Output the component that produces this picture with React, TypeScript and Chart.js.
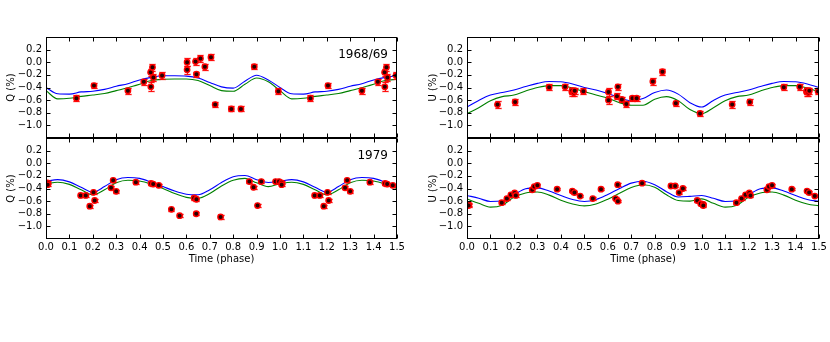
import React, { useEffect, useRef } from 'react';
import { Chart, registerables } from 'chart.js';

Chart.register(...registerables);

// ---------- tick labels ----------
const X_TICKS = [0, 0.1, 0.2, 0.3, 0.4, 0.5, 0.6, 0.7, 0.8, 0.9, 1.0, 1.1, 1.2, 1.3, 1.4, 1.5];
const Y_TICKS = [-1.0, -0.8, -0.6, -0.4, -0.2, 0.0, 0.2];

// ---------- model curves (phase grid) ----------
const MODEL_PHASE = [0, 0.05, 0.1, 0.15, 0.2, 0.25, 0.3, 0.35, 0.4, 0.45, 0.5, 0.55, 0.6, 0.65, 0.7, 0.75, 0.8, 0.85, 0.9, 0.95, 1.0,
  1.05, 1.1, 1.15, 1.2, 1.25, 1.3, 1.35, 1.4, 1.45, 1.5];

const Q68_BLUE = [-0.40, -0.50, -0.505, -0.47, -0.46, -0.43, -0.38, -0.34, -0.28, -0.24, -0.215, -0.215, -0.22, -0.25, -0.32, -0.39, -0.41, -0.30, -0.205, -0.28, -0.40,
  -0.50, -0.505, -0.47, -0.46, -0.43, -0.38, -0.34, -0.28, -0.24, -0.215];
const Q68_GREEN = [-0.45, -0.58, -0.57, -0.54, -0.52, -0.495, -0.45, -0.405, -0.35, -0.29, -0.27, -0.265, -0.265, -0.29, -0.37, -0.45, -0.46, -0.35, -0.25, -0.31, -0.45,
  -0.58, -0.57, -0.54, -0.52, -0.495, -0.45, -0.405, -0.35, -0.29, -0.27];

const Q79_BLUE = [-0.285, -0.26, -0.295, -0.38, -0.46, -0.37, -0.26, -0.225, -0.24, -0.30, -0.37, -0.44, -0.49, -0.50, -0.42, -0.305, -0.215, -0.195, -0.26, -0.305, -0.285,
  -0.26, -0.295, -0.38, -0.46, -0.37, -0.26, -0.225, -0.24, -0.30, -0.37];
const Q79_GREEN = [-0.325, -0.30, -0.335, -0.42, -0.50, -0.42, -0.31, -0.27, -0.28, -0.33, -0.40, -0.48, -0.54, -0.555, -0.48, -0.36, -0.27, -0.24, -0.31, -0.37, -0.325,
  -0.30, -0.335, -0.42, -0.50, -0.42, -0.31, -0.27, -0.28, -0.33, -0.40];

const U68_BLUE = [-0.71, -0.605, -0.52, -0.48, -0.44, -0.385, -0.335, -0.305, -0.31, -0.345, -0.40, -0.44, -0.495, -0.56, -0.61, -0.575, -0.48, -0.44, -0.505, -0.64, -0.71,
  -0.605, -0.52, -0.48, -0.44, -0.385, -0.335, -0.305, -0.31, -0.345, -0.40];
const U68_GREEN = [-0.815, -0.72, -0.61, -0.545, -0.52, -0.455, -0.40, -0.37, -0.37, -0.41, -0.465, -0.52, -0.57, -0.64, -0.68, -0.68, -0.585, -0.545, -0.61, -0.75, -0.815,
  -0.72, -0.61, -0.545, -0.52, -0.455, -0.40, -0.37, -0.37, -0.41, -0.465];

const U79_BLUE = [-0.51, -0.555, -0.605, -0.595, -0.50, -0.405, -0.39, -0.44, -0.51, -0.575, -0.605, -0.575, -0.495, -0.40, -0.315, -0.285, -0.34, -0.45, -0.535, -0.525, -0.51,
  -0.555, -0.605, -0.595, -0.50, -0.405, -0.39, -0.44, -0.51, -0.575, -0.605];
const U79_GREEN = [-0.565, -0.635, -0.695, -0.665, -0.54, -0.47, -0.455, -0.505, -0.585, -0.645, -0.675, -0.645, -0.57, -0.475, -0.385, -0.34, -0.38, -0.50, -0.59, -0.60, -0.565,
  -0.635, -0.695, -0.665, -0.54, -0.47, -0.455, -0.505, -0.585, -0.645, -0.675];

// ---------- observations 1968/69 ----------
const PH68 = [0.13, 0.205, 0.35, 0.418, 0.447, 0.448, 0.455, 0.459, 0.496, 0.603, 0.603, 0.639, 0.643, 0.66, 0.679, 0.705, 0.723, 0.792, 0.833, 0.89, 0.993,
  1.13, 1.205, 1.35, 1.418, 1.447, 1.448, 1.455, 1.459, 1.496];
const Q68 = [-0.57, -0.37, -0.45, -0.31, -0.16, -0.39, -0.08, -0.24, -0.21, 0.00, -0.12, 0.01, -0.19, 0.06, -0.07, 0.08, -0.67, -0.74, -0.74, -0.07, -0.46,
  -0.57, -0.37, -0.45, -0.31, -0.16, -0.39, -0.08, -0.24, -0.21];
const Q68_ERR = [0.05, 0.04, 0.05, 0.05, 0.05, 0.07, 0.06, 0.05, 0.05, 0.06, 0.06, 0.05, 0.04, 0.05, 0.05, 0.05, 0.04, 0.04, 0.04, 0.04, 0.05,
  0.05, 0.04, 0.05, 0.05, 0.05, 0.07, 0.06, 0.05, 0.05];
const U68 = [-0.67, -0.63, -0.395, -0.39, -0.47, -0.45, -0.48, -0.45, -0.46, -0.47, -0.60, -0.54, -0.39, -0.59, -0.66, -0.57, -0.57, -0.305, -0.15, -0.65, -0.81,
  -0.67, -0.63, -0.395, -0.39, -0.47, -0.45, -0.48, -0.45, -0.46];
const U68_ERR = [0.05, 0.04, 0.05, 0.05, 0.06, 0.05, 0.06, 0.05, 0.05, 0.07, 0.06, 0.05, 0.05, 0.04, 0.05, 0.04, 0.04, 0.05, 0.05, 0.04, 0.04,
  0.05, 0.04, 0.05, 0.05, 0.06, 0.05, 0.06, 0.05, 0.05];

// ---------- observations 1979 ----------
const PH79 = [0.007, 0.007, 0.148, 0.17, 0.187, 0.203, 0.208, 0.278, 0.287, 0.30, 0.384, 0.449, 0.458, 0.482, 0.536, 0.571, 0.633, 0.643, 0.642, 0.746,
  0.869, 0.887, 0.904, 0.92, 0.981, 0.996,
  1.007, 1.007, 1.148, 1.17, 1.187, 1.203, 1.208, 1.278, 1.287, 1.30, 1.384, 1.449, 1.458, 1.482];
const Q79 = [-0.31, -0.34, -0.51, -0.51, -0.68, -0.46, -0.59, -0.39, -0.27, -0.445, -0.30, -0.32, -0.33, -0.35, -0.73, -0.83, -0.55, -0.57, -0.80, -0.85,
  -0.29, -0.38, -0.67, -0.29, -0.29, -0.29,
  -0.31, -0.34, -0.51, -0.51, -0.68, -0.46, -0.59, -0.39, -0.27, -0.445, -0.30, -0.32, -0.33, -0.35];
const Q79_ERR = [0.025, 0.025, 0.025, 0.025, 0.025, 0.025, 0.025, 0.025, 0.025, 0.025, 0.025, 0.025, 0.025, 0.025, 0.025, 0.025, 0.025, 0.025, 0.025, 0.03,
  0.025, 0.025, 0.025, 0.025, 0.025, 0.025,
  0.025, 0.025, 0.025, 0.025, 0.025, 0.025, 0.025, 0.025, 0.025, 0.025, 0.025, 0.025, 0.025, 0.025];
const U79 = [-0.65, -0.67, -0.625, -0.56, -0.50, -0.47, -0.51, -0.42, -0.37, -0.35, -0.41, -0.44, -0.465, -0.52, -0.56, -0.41, -0.56, -0.60, -0.34, -0.315,
  -0.36, -0.36, -0.465, -0.40, -0.59, -0.64,
  -0.65, -0.67, -0.625, -0.56, -0.50, -0.47, -0.51, -0.42, -0.37, -0.35, -0.41, -0.44, -0.465, -0.52];
const U79_ERR = [0.02, 0.02, 0.02, 0.02, 0.02, 0.02, 0.02, 0.02, 0.02, 0.02, 0.02, 0.02, 0.02, 0.02, 0.02, 0.02, 0.02, 0.02, 0.02, 0.02,
  0.02, 0.02, 0.02, 0.02, 0.02, 0.02,
  0.02, 0.02, 0.02, 0.02, 0.02, 0.02, 0.02, 0.02, 0.02, 0.02, 0.02, 0.02, 0.02, 0.02];

const FAMILY = '"DejaVu Sans", sans-serif';

type PanelCfg = {
  left: number; axisW: number; padRight: number; titlePad: number; bottom: boolean;
  yTitle: string; label: string; phase: number[]; vals: number[]; errs: number[];
  blue: number[]; green: number[];
};

const PANELS: PanelCfg[] = [
  { left: 0, axisW: 46, padRight: 18, titlePad: 5, bottom: false, yTitle: 'Q (%)', label: '1968/69', phase: PH68, vals: Q68, errs: Q68_ERR, blue: Q68_BLUE, green: Q68_GREEN },
  { left: 0, axisW: 46, padRight: 18, titlePad: 5, bottom: true, yTitle: 'Q (%)', label: '1979', phase: PH79, vals: Q79, errs: Q79_ERR, blue: Q79_BLUE, green: Q79_GREEN },
  { left: 415, axisW: 52, padRight: 11, titlePad: 12, bottom: false, yTitle: 'U (%)', label: '', phase: PH68, vals: U68, errs: U68_ERR, blue: U68_BLUE, green: U68_GREEN },
  { left: 415, axisW: 52, padRight: 11, titlePad: 12, bottom: true, yTitle: 'U (%)', label: '', phase: PH79, vals: U79, errs: U79_ERR, blue: U79_BLUE, green: U79_GREEN },
];

const fmtY = (v: number) => {
  const s = Math.abs(v).toFixed(1);
  return v < -1e-9 ? '\u2212' + s : s;
};

function makePlugin(cfg: PanelCfg) {
  return {
    id: 'frameAndErrors',
    beforeDatasetDraw(chart: any, args: any) {
      if (args.index !== 0) return;
      const { ctx, chartArea: a, scales } = chart;
      const xs = scales.x, ys = scales.y;
      ctx.save();
      ctx.beginPath();
      ctx.rect(a.left, a.top, a.right - a.left, a.bottom - a.top);
      ctx.clip();
      cfg.phase.forEach((ph, i) => {
        const px = Math.round(xs.getPixelForValue(ph)) + 0.5;
        const y1 = Math.round(ys.getPixelForValue(cfg.vals[i] - cfg.errs[i])) + 0.5;
        const y2 = Math.round(ys.getPixelForValue(cfg.vals[i] + cfg.errs[i])) + 0.5;
        // soft halo
        ctx.lineWidth = 2;
        ctx.strokeStyle = 'rgba(255,0,0,0.25)';
        ctx.beginPath();
        ctx.moveTo(px, y1); ctx.lineTo(px, y2);
        ctx.moveTo(px - 3.5, y1); ctx.lineTo(px + 3.5, y1);
        ctx.moveTo(px - 3.5, y2); ctx.lineTo(px + 3.5, y2);
        ctx.stroke();
        // core
        ctx.lineWidth = 1;
        ctx.strokeStyle = 'rgba(255,0,0,0.9)';
        ctx.beginPath();
        ctx.moveTo(px, y1); ctx.lineTo(px, y2);
        ctx.moveTo(px - 3, y1); ctx.lineTo(px + 3, y1);
        ctx.moveTo(px - 3, y2); ctx.lineTo(px + 3, y2);
        ctx.stroke();
      });
      ctx.restore();
    },
    afterDraw(chart: any) {
      const { ctx, chartArea: a, scales } = chart;
      const xs = scales.x, ys = scales.y;
      const L = Math.round(a.left) + 0.5, R = Math.round(a.right) - 0.5;
      const T = Math.round(a.top) + 0.5, B = Math.round(a.bottom) - 0.5;
      ctx.save();
      ctx.strokeStyle = '#000';
      ctx.lineWidth = 1;
      ctx.strokeRect(L, T, R - L, B - T);
      ctx.beginPath();
      X_TICKS.forEach((v) => {
        const px = Math.round(xs.getPixelForValue(v)) + 0.5;
        ctx.moveTo(px, B); ctx.lineTo(px, B - 4);
        ctx.moveTo(px, T); ctx.lineTo(px, T + 4);
      });
      Y_TICKS.forEach((v) => {
        const py = Math.round(ys.getPixelForValue(v)) + 0.5;
        ctx.moveTo(L, py); ctx.lineTo(L + 4, py);
        ctx.moveTo(R, py); ctx.lineTo(R - 4, py);
      });
      ctx.stroke();
      if (cfg.label) {
        ctx.fillStyle = '#000';
        ctx.font = '12px ' + FAMILY;
        ctx.textAlign = 'right';
        ctx.textBaseline = 'alphabetic';
        ctx.fillText(cfg.label, a.right - 9, a.top + 21);
      }
      ctx.restore();
    },
  };
}

function buildConfig(cfg: PanelCfg): any {
  const pts = cfg.phase.map((ph, i) => ({ x: ph, y: cfg.vals[i] }));
  const blue = MODEL_PHASE.map((ph, i) => ({ x: ph, y: cfg.blue[i] }));
  const green = MODEL_PHASE.map((ph, i) => ({ x: ph, y: cfg.green[i] }));
  const font = { family: FAMILY, size: 10 };
  const xScale: any = cfg.bottom
    ? {
        type: 'linear', min: 0, max: 1.5, display: true,
        afterBuildTicks: (s: any) => { s.ticks = X_TICKS.map((v) => ({ value: v })); },
        afterFit: (s: any) => { s.height = 26; },
        grid: { display: false, drawTicks: false },
        border: { display: false },
        ticks: { autoSkip: false, maxRotation: 0, minRotation: 0, padding: 2, font, color: '#000', callback: (v: number) => v.toFixed(1) },
        title: { display: true, text: 'Time (phase)', font, color: '#000', padding: 0 },
      }
    : { type: 'linear', min: 0, max: 1.5, display: false };
  return {
    type: 'scatter',
    data: {
      datasets: [
        { data: pts, showLine: false, pointRadius: 2.7, pointStyle: 'circle', pointBackgroundColor: '#2a0000', pointBorderColor: '#ff0000', pointBorderWidth: 1.4 },
        { data: blue, showLine: true, borderColor: '#0000ff', borderWidth: 1.1, pointRadius: 0, cubicInterpolationMode: 'monotone', fill: false },
        { data: green, showLine: true, borderColor: '#008000', borderWidth: 1.1, pointRadius: 0, cubicInterpolationMode: 'monotone', fill: false },
      ],
    },
    options: {
      responsive: false,
      maintainAspectRatio: false,
      animation: false,
      events: [],
      layout: { padding: { top: cfg.bottom ? 138 : 37, bottom: cfg.bottom ? 77 : 204, left: 0, right: cfg.padRight } },
      plugins: { legend: { display: false }, tooltip: { enabled: false } },
      scales: {
        x: xScale,
        y: {
          type: 'linear', min: -1.2, max: 0.4,
          afterBuildTicks: (s: any) => { s.ticks = Y_TICKS.map((v) => ({ value: v })); },
          afterFit: (s: any) => { s.width = cfg.axisW; },
          grid: { display: false, drawTicks: false },
          border: { display: false },
          ticks: { padding: 4, font, color: '#000', callback: (v: number) => fmtY(v) },
          title: { display: true, text: cfg.yTitle, font, color: '#000', padding: { top: cfg.titlePad, bottom: 0 } },
        },
      },
    },
    plugins: [makePlugin(cfg)],
  };
}

function Panel({ cfg }: { cfg: PanelCfg }) {
  const ref = useRef<HTMLCanvasElement | null>(null);
  useEffect(() => {
    if (!ref.current) return;
    const chart = new Chart(ref.current, buildConfig(cfg));
    return () => chart.destroy();
  }, [cfg]);
  return (
    <canvas
      ref={ref}
      width={415}
      height={342}
      style={{ position: 'absolute', left: cfg.left, top: 0, width: 415, height: 342 }}
    />
  );
}

export default function App() {
  return (
    <div style={{ position: 'fixed', left: 0, top: 0, width: 830, height: 342, background: '#fff', overflow: 'hidden' }}>
      {PANELS.map((p, i) => (
        <Panel key={i} cfg={p} />
      ))}
    </div>
  );
}
